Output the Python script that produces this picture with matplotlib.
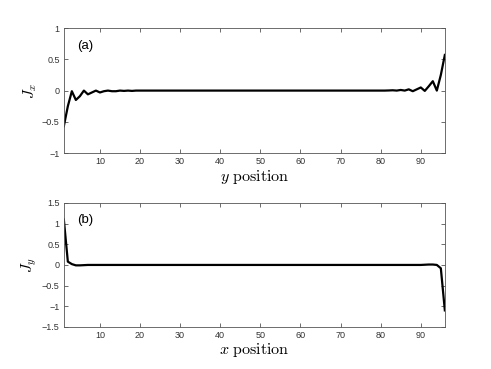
import numpy as np
import matplotlib
matplotlib.use("Agg")
import matplotlib.pyplot as plt

plt.rcParams['mathtext.fontset'] = 'cm'
plt.rcParams['font.family'] = ['Liberation Sans', 'DejaVu Sans']

positions = list(range(1, 97))

jx_left = [-0.57, -0.25, -0.01, -0.15, -0.09, 0.00, -0.06, -0.03, 0.00, -0.03,
           -0.01, 0.00, -0.01, -0.01, 0.00, -0.005, 0.00, -0.005, 0.00, 0.00]
jx_mid = [0.0] * 60
jx_right = [0.00, 0.00, 0.00, 0.00, 0.00, 0.00, 0.002, 0.005, 0.00, 0.01,
            0.00, 0.02, -0.01, 0.02, 0.05, -0.005, 0.07, 0.15, 0.00, 0.25, 0.57]
jx = jx_left + jx_mid[:55] + jx_right

jy_left = [1.10, 0.08, 0.02, -0.01, -0.01, -0.005, 0.00, 0.00, 0.00, 0.00]
jy_mid = [0.0] * 80
jy_right = [0.005, 0.01, 0.01, 0.00, -0.08, -1.10]
jy = jy_left + jy_mid + jy_right

fig = plt.figure(figsize=(4.91, 3.69), dpi=100)
ax1 = fig.add_axes([0.130, 0.585, 0.776, 0.339])
ax2 = fig.add_axes([0.130, 0.114, 0.776, 0.336])

xticks = [10, 20, 30, 40, 50, 60, 70, 80, 90]

for ax, data, ylim, yticks, ylabels, xlab, ylab, tag in [
    (ax1, jx, (-1, 1), [-1, -0.5, 0, 0.5, 1], ['\u22121', '\u22120.5', '0', '0.5', '1'],
     r'$y\ \mathrm{position}$', r'$J_x$', '(a)'),
    (ax2, jy, (-1.5, 1.5), [-1.5, -1, -0.5, 0, 0.5, 1, 1.5],
     ['\u22121.5', '\u22121', '\u22120.5', '0', '0.5', '1', '1.5'],
     r'$x\ \mathrm{position}$', r'$J_y$', '(b)')]:
    ax.plot(positions, data, color='black', linewidth=1.6)
    ax.set_xlim(1, 96)
    ax.set_ylim(*ylim)
    ax.set_xticks(xticks)
    ax.set_yticks(yticks)
    ax.set_yticklabels(ylabels)
    ax.tick_params(direction='in', top=True, right=True, labelsize=6.5,
                   length=3, width=0.5, colors='#333333', pad=3)
    for s in ax.spines.values():
        s.set_linewidth(0.6)
        s.set_color('#555555')
    ax.set_xlabel(xlab, fontsize=11.5, labelpad=1)
    ax.set_ylabel(ylab, fontsize=11, labelpad=2)
    ax.text(0.035, 0.86, tag, transform=ax.transAxes, fontsize=9.5, va='center')

fig.savefig('out.png', dpi=100)
